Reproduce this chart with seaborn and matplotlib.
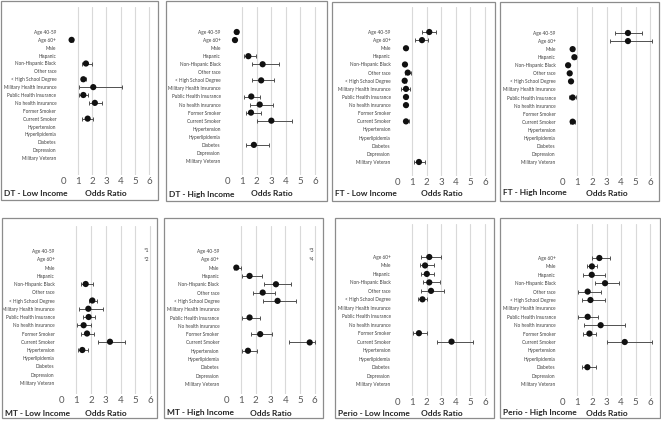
import matplotlib
matplotlib.use("Agg")
import matplotlib.pyplot as plt
from matplotlib.patches import Rectangle
import seaborn as sns
import pandas as pd

sns.set_style("white")
plt.rcParams['font.family'] = ['Lato', 'DejaVu Sans']

CATS17 = ["Age 40-59", "Age 60+", "Male", "Hispanic", "Non-Hispanic Black", "Other race",
          "< High School Degree", "Military Health Insurance", "Public Health Insurance",
          "No health insurance", "Former Smoker", "Current Smoker", "Hypertension",
          "Hyperlipidemia", "Diabetes", "Depression", "Military Veteran"]
CATS16 = CATS17[1:]

# DT - Low Income
DT_LOW_VARS = ["Age 60+", "Non-Hispanic Black", "< High School Degree", "Military Health Insurance",
               "Public Health Insurance", "No health insurance", "Current Smoker"]
DT_LOW_OR = [0.58, 1.58, 1.40, 2.09, 1.40, 2.20, 1.70]
DT_LOW_LO = [0.50, 1.28, 1.23, 1.07, 1.10, 1.80, 1.30]
DT_LOW_HI = [0.68, 1.98, 1.58, 4.12, 1.70, 2.70, 2.10]

# DT - High Income
DT_HIGH_VARS = ["Age 40-59", "Age 60+", "Hispanic", "Non-Hispanic Black", "< High School Degree",
                "Public Health Insurance", "No health insurance", "Former Smoker", "Current Smoker", "Diabetes"]
DT_HIGH_OR = [0.62, 0.50, 1.42, 2.40, 2.30, 1.62, 2.20, 1.60, 3.00, 1.80]
DT_HIGH_LO = [0.52, 0.42, 1.10, 1.70, 1.70, 1.15, 1.50, 1.25, 2.00, 1.25]
DT_HIGH_HI = [0.74, 0.60, 1.95, 3.50, 3.20, 2.25, 3.10, 2.30, 4.40, 2.85]

# FT - Low Income
FT_LOW_VARS = ["Age 40-59", "Age 60+", "Male", "Non-Hispanic Black", "Other race", "< High School Degree",
               "Military Health Insurance", "Public Health Insurance", "No health insurance",
               "Current Smoker", "Military Veteran"]
FT_LOW_OR = [2.17, 1.67, 0.57, 0.50, 0.69, 0.48, 0.57, 0.57, 0.57, 0.57, 1.46]
FT_LOW_LO = [1.70, 1.20, 0.50, 0.42, 0.50, 0.40, 0.25, 0.50, 0.50, 0.45, 1.10]
FT_LOW_HI = [2.60, 2.10, 0.65, 0.60, 0.90, 0.56, 0.87, 0.65, 0.65, 0.75, 1.90]

# FT - High Income
FT_HIGH_VARS = ["Age 40-59", "Age 60+", "Male", "Hispanic", "Non-Hispanic Black", "Other race",
                "< High School Degree", "Public Health Insurance", "Current Smoker"]
FT_HIGH_OR = [4.47, 4.47, 0.68, 0.80, 0.37, 0.48, 0.57, 0.68, 0.68]
FT_HIGH_LO = [3.60, 3.25, 0.60, 0.70, 0.30, 0.40, 0.48, 0.43, 0.50]
FT_HIGH_HI = [5.40, 6.10, 0.76, 0.90, 0.45, 0.56, 0.66, 0.91, 0.87]

# MT - Low Income
MT_LOW_VARS = ["Non-Hispanic Black", "< High School Degree", "Military Health Insurance",
               "Public Health Insurance", "No health insurance", "Former Smoker", "Current Smoker", "Hypertension"]
MT_LOW_OR = [1.63, 2.08, 1.81, 1.83, 1.49, 1.72, 3.28, 1.40]
MT_LOW_LO = [1.30, 1.85, 1.20, 1.43, 1.04, 1.31, 2.47, 1.09]
MT_LOW_HI = [2.15, 2.40, 2.83, 2.28, 1.97, 2.22, 4.30, 1.79]
MT_LOW_NOTES = ["*1", "*2"]

# MT - High Income
MT_HIGH_VARS = ["Male", "Hispanic", "Non-Hispanic Black", "Other race", "< High School Degree",
                "Public Health Insurance", "Former Smoker", "Current Smoker", "Hypertension"]
MT_HIGH_OR = [0.68, 1.58, 3.37, 2.47, 3.48, 1.58, 2.30, 5.66, 1.47]
MT_HIGH_LO = [0.55, 1.04, 2.56, 1.79, 2.49, 1.09, 1.67, 4.28, 1.09]
MT_HIGH_HI = [1.02, 2.40, 4.37, 3.30, 4.70, 2.30, 3.08, 6.00, 2.08]
MT_HIGH_NOTES = ["*3", "*4"]

# Perio - Low Income
PERIO_LOW_VARS = ["Age 60+", "Male", "Hispanic", "Non-Hispanic Black", "Other race",
                  "< High School Degree", "Former Smoker", "Current Smoker"]
PERIO_LOW_OR = [2.17, 1.88, 2.00, 2.17, 2.29, 1.70, 1.46, 3.70]
PERIO_LOW_LO = [1.60, 1.50, 1.60, 1.74, 1.60, 1.42, 1.08, 2.72]
PERIO_LOW_HI = [3.00, 2.50, 2.50, 2.90, 3.20, 2.00, 2.00, 5.15]

# Perio - High Income
PERIO_HIGH_VARS = ["Age 60+", "Male", "Hispanic", "Non-Hispanic Black", "Other race", "< High School Degree",
                   "Public Health Insurance", "No health insurance", "Former Smoker", "Current Smoker", "Diabetes"]
PERIO_HIGH_OR = [2.51, 2.00, 1.99, 2.90, 1.71, 1.90, 1.71, 2.60, 1.83, 4.25, 1.69]
PERIO_HIGH_LO = [2.00, 1.64, 1.37, 2.21, 1.07, 1.30, 1.07, 1.48, 1.39, 3.04, 1.30]
PERIO_HIGH_HI = [3.24, 2.35, 2.92, 3.86, 2.63, 2.88, 2.44, 4.27, 2.28, 6.10, 2.28]

TITLES = ["DT - Low Income", "DT - High Income", "FT - Low Income", "FT - High Income",
          "MT - Low Income", "MT - High Income", "Perio - Low Income", "Perio - High Income"]
XTICKS = [0, 1, 2, 3, 4, 5, 6]
XLABEL = "Odds Ratio"

W, H = 661, 422
fig = plt.figure(figsize=(W / 100, H / 100), dpi=100)
fig.patch.set_facecolor("white")

def fx(px):
    return px / W

def fy(py):
    return 1 - py / H

# layout: box(l,t,r,b), x0px, x6px, grid top/bottom, cat top/bottom px, tick y, title y
panels = [
    dict(box=(1, 1, 158, 200), x0=63.3, x6=149.3, gt=7, gb=175, ct=32, cb=158, ty=194,
         cats=CATS17, v=DT_LOW_VARS, o=DT_LOW_OR, lo=DT_LOW_LO, hi=DT_LOW_HI, notes=None),
    dict(box=(166, 1, 327, 201), x0=227.7, x6=315, gt=7, gb=175, ct=32, cb=161, ty=194,
         cats=CATS17, v=DT_HIGH_VARS, o=DT_HIGH_OR, lo=DT_HIGH_LO, hi=DT_HIGH_HI, notes=None),
    dict(box=(332, 2, 495, 201), x0=397.7, x6=485, gt=7, gb=176, ct=32, cb=162, ty=193,
         cats=CATS17, v=FT_LOW_VARS, o=FT_LOW_OR, lo=FT_LOW_LO, hi=FT_LOW_HI, notes=None),
    dict(box=(500, 2, 659, 201), x0=562.7, x6=650.3, gt=7, gb=176, ct=33, cb=162, ty=193,
         cats=CATS17, v=FT_HIGH_VARS, o=FT_HIGH_OR, lo=FT_HIGH_LO, hi=FT_HIGH_HI, notes=None),
    dict(box=(2, 218, 157, 418), x0=61.7, x6=150, gt=226, gb=394, ct=251, cb=383, ty=413,
         cats=CATS17, v=MT_LOW_VARS, o=MT_LOW_OR, lo=MT_LOW_LO, hi=MT_LOW_HI, notes=MT_LOW_NOTES),
    dict(box=(164, 218, 323, 418), x0=226.3, x6=314.7, gt=226, gb=394, ct=251, cb=384, ty=413,
         cats=CATS17, v=MT_HIGH_VARS, o=MT_HIGH_OR, lo=MT_HIGH_LO, hi=MT_HIGH_HI, notes=MT_HIGH_NOTES),
    dict(box=(335, 218, 494, 418), x0=397.7, x6=485, gt=224, gb=396, ct=257, cb=384, ty=413,
         cats=CATS16, v=PERIO_LOW_VARS, o=PERIO_LOW_OR, lo=PERIO_LOW_LO, hi=PERIO_LOW_HI, notes=None),
    dict(box=(500, 218, 660, 418), x0=562.7, x6=650.3, gt=224, gb=396, ct=258, cb=384, ty=413,
         cats=CATS16, v=PERIO_HIGH_VARS, o=PERIO_HIGH_OR, lo=PERIO_HIGH_LO, hi=PERIO_HIGH_HI, notes=None),
]

XL, XR = -0.25, 6.3
for p, title in zip(panels, TITLES):
    l, t, r, b = p["box"]
    fig.add_artist(Rectangle((fx(l), fy(b)), (r - l) / W, (b - t) / H, transform=fig.transFigure,
                             fill=False, ec="#8c8c8c", lw=0.9))
    unit = (p["x6"] - p["x0"]) / 6
    axl = p["x0"] + XL * unit
    axr = p["x0"] + XR * unit
    ax = fig.add_axes([fx(axl), fy(p["gb"]), (axr - axl) / W, (p["gb"] - p["gt"]) / H])
    ax.set_facecolor("none")
    cats = p["cats"]
    n = len(cats)
    s = (p["cb"] - p["ct"]) / (n - 1)
    df = pd.DataFrame({"var": p["v"], "or": p["o"], "lo": p["lo"], "hi": p["hi"]})
    df["idx"] = [cats.index(v) for v in df["var"]]
    ax.errorbar(df["or"], df["idx"], xerr=[df["or"] - df["lo"], df["hi"] - df["or"]], fmt="none",
                ecolor="#505050", elinewidth=0.7, capsize=1.6, capthick=0.7, zorder=2)
    sns.scatterplot(data=df, x="or", y="idx", ax=ax, color="#111111", s=20, edgecolor="none",
                    zorder=3, legend=False)
    ax.set_xlim(XL, XR)
    ax.set_ylim((p["gb"] - p["ct"]) / s, (p["gt"] - p["ct"]) / s)
    ax.set_xticks(XTICKS)
    ax.set_xticklabels([str(v) for v in XTICKS], fontsize=7, color="#595959")
    ax.set_yticks(range(n))
    ax.set_yticklabels(cats, fontsize=3.4, color="#404040")
    ax.tick_params(axis="both", length=0)
    ax.tick_params(axis="x", pad=1.5)
    ax.tick_params(axis="y", pad=2.5)
    ax.set_xlabel("")
    ax.set_ylabel("")
    ax.grid(axis="x", color="#d9d9d9", lw=0.8)
    ax.grid(axis="y", visible=False)
    ax.set_axisbelow(True)
    ax.get_xgridlines()[0].set_visible(False)
    for sp in ax.spines.values():
        sp.set_visible(False)
    if p["notes"]:
        for i, note in enumerate(p["notes"]):
            ax.text(5.6, i, note, fontsize=4, color="#404040", va="center", ha="left")
    fig.text(fx(l + 3), fy(p["ty"]), title, fontsize=6, fontweight="bold", color="#262626",
             va="center", ha="left")
    fig.text(fx(p["x0"] + 3 * unit), fy(p["ty"]), XLABEL, fontsize=6, fontweight="bold",
             color="#262626", va="center", ha="center")

fig.savefig("out.png", dpi=100, facecolor="white")
